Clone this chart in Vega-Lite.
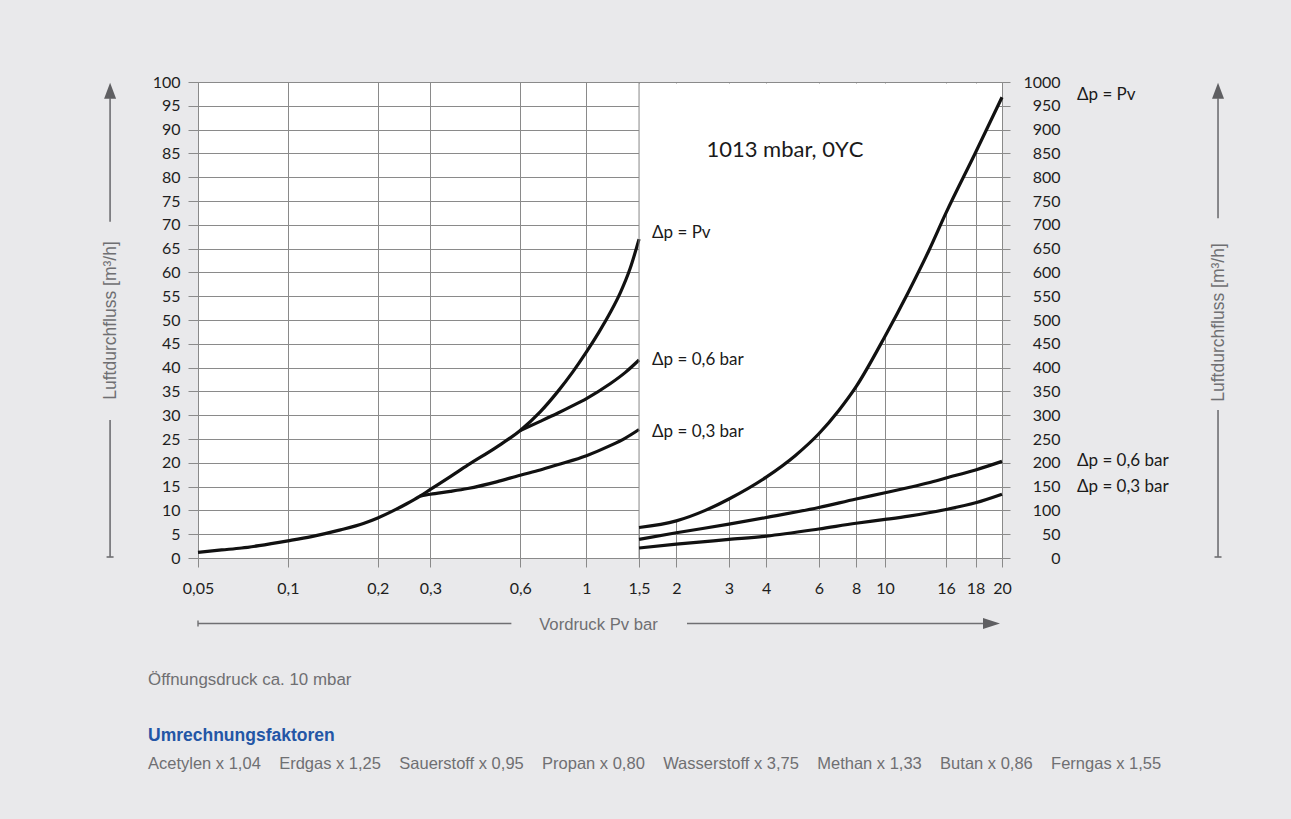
{
  "$schema": "https://vega.github.io/schema/vega-lite/v6.json",
  "width": 804,
  "height": 476,
  "autosize": {"type": "none"},
  "padding": {"left": 198, "top": 82, "right": 289, "bottom": 261},
  "background": "#e9e9eb",
  "config": {
    "view": {"fill": "white", "stroke": "#8a8a8a", "strokeWidth": 1},
    "axis": {"gridColor": "#8a8a8a", "gridOpacity": 1, "gridWidth": 1, "tickColor": "#8a8a8a", "tickWidth": 1, "domain": false, "labelFont": "Lato", "labelFontSize": 16, "labelColor": "#1e1e1e", "titleFont": "Liberation Sans", "titleFontSize": 17.5, "titleFontWeight": "normal", "titleColor": "#6f6f72"}
  },
  "datasets": {
    "left": [
      {"series": "Pv", "x": 0.05, "y": 1.2}, {"series": "Pv", "x": 0.06, "y": 1.7}, {"series": "Pv", "x": 0.07, "y": 2.1}, {"series": "Pv", "x": 0.08, "y": 2.6},
      {"series": "Pv", "x": 0.1, "y": 3.6}, {"series": "Pv", "x": 0.12, "y": 4.5}, {"series": "Pv", "x": 0.15, "y": 5.9}, {"series": "Pv", "x": 0.18, "y": 7.3},
      {"series": "Pv", "x": 0.2, "y": 8.4}, {"series": "Pv", "x": 0.23, "y": 10.2}, {"series": "Pv", "x": 0.25, "y": 11.4}, {"series": "Pv", "x": 0.277, "y": 13.0},
      {"series": "Pv", "x": 0.3, "y": 14.4}, {"series": "Pv", "x": 0.35, "y": 17.1}, {"series": "Pv", "x": 0.4, "y": 19.5}, {"series": "Pv", "x": 0.5, "y": 23.3},
      {"series": "Pv", "x": 0.6, "y": 26.8}, {"series": "Pv", "x": 0.7, "y": 30.7}, {"series": "Pv", "x": 0.8, "y": 34.9}, {"series": "Pv", "x": 0.9, "y": 39.1},
      {"series": "Pv", "x": 1.0, "y": 43.3}, {"series": "Pv", "x": 1.1, "y": 47.4}, {"series": "Pv", "x": 1.2, "y": 51.5}, {"series": "Pv", "x": 1.3, "y": 55.8},
      {"series": "Pv", "x": 1.4, "y": 60.8}, {"series": "Pv", "x": 1.5, "y": 67.0},
      {"series": "0,6", "x": 0.6, "y": 26.8}, {"series": "0,6", "x": 0.7, "y": 28.7}, {"series": "0,6", "x": 0.8, "y": 30.4}, {"series": "0,6", "x": 0.9, "y": 32.0},
      {"series": "0,6", "x": 1.0, "y": 33.5}, {"series": "0,6", "x": 1.2, "y": 36.6}, {"series": "0,6", "x": 1.35, "y": 39.0}, {"series": "0,6", "x": 1.5, "y": 41.6},
      {"series": "0,3", "x": 0.277, "y": 13.0}, {"series": "0,3", "x": 0.3, "y": 13.4}, {"series": "0,3", "x": 0.35, "y": 14.0}, {"series": "0,3", "x": 0.4, "y": 14.6},
      {"series": "0,3", "x": 0.5, "y": 16.0}, {"series": "0,3", "x": 0.6, "y": 17.4}, {"series": "0,3", "x": 0.7, "y": 18.5}, {"series": "0,3", "x": 0.8, "y": 19.6},
      {"series": "0,3", "x": 1.0, "y": 21.5}, {"series": "0,3", "x": 1.2, "y": 23.6}, {"series": "0,3", "x": 1.35, "y": 25.2}, {"series": "0,3", "x": 1.5, "y": 27.0}
    ],
    "right": [
      {"series": "Pv", "x": 1.5, "y": 64}, {"series": "Pv", "x": 2, "y": 78}, {"series": "Pv", "x": 2.5, "y": 100}, {"series": "Pv", "x": 3, "y": 124},
      {"series": "Pv", "x": 4, "y": 170}, {"series": "Pv", "x": 5, "y": 215}, {"series": "Pv", "x": 6, "y": 261}, {"series": "Pv", "x": 7, "y": 310},
      {"series": "Pv", "x": 8, "y": 360}, {"series": "Pv", "x": 10, "y": 466}, {"series": "Pv", "x": 12, "y": 560}, {"series": "Pv", "x": 14, "y": 645},
      {"series": "Pv", "x": 16, "y": 725}, {"series": "Pv", "x": 18, "y": 852}, {"series": "Pv", "x": 20, "y": 968},
      {"series": "0,6", "x": 1.5, "y": 39}, {"series": "0,6", "x": 2, "y": 53}, {"series": "0,6", "x": 3, "y": 71}, {"series": "0,6", "x": 4, "y": 85},
      {"series": "0,6", "x": 6, "y": 106}, {"series": "0,6", "x": 8, "y": 124}, {"series": "0,6", "x": 10, "y": 137}, {"series": "0,6", "x": 12, "y": 148},
      {"series": "0,6", "x": 14, "y": 158}, {"series": "0,6", "x": 16, "y": 168}, {"series": "0,6", "x": 18, "y": 185}, {"series": "0,6", "x": 20, "y": 203},
      {"series": "0,3", "x": 1.5, "y": 21}, {"series": "0,3", "x": 2, "y": 29}, {"series": "0,3", "x": 3, "y": 39}, {"series": "0,3", "x": 4, "y": 46},
      {"series": "0,3", "x": 6, "y": 61}, {"series": "0,3", "x": 8, "y": 73}, {"series": "0,3", "x": 10, "y": 81}, {"series": "0,3", "x": 12, "y": 88},
      {"series": "0,3", "x": 14, "y": 95}, {"series": "0,3", "x": 16, "y": 102}, {"series": "0,3", "x": 18, "y": 116}, {"series": "0,3", "x": 20, "y": 134}
    ]
  },
  "layer": [
    {
      "data": {"name": "right"},
      "transform": [{"filter": "datum.series === 'Pv'"}],
      "mark": {"type": "area", "fill": "white", "interpolate": "monotone"},
      "encoding": {
        "x": {"field": "x", "type": "quantitative", "title": "Vordruck Pv bar",
              "scale": {"type": "log", "domain": [0.05, 16, 20], "range": [0, 748, 804], "nice": false, "zero": false},
              "axis": {"values": [0.05, 0.1, 0.2, 0.3, 0.6, 1, 1.5, 2, 3, 4, 6, 8, 10, 16, 18, 20],
                       "labelExpr": "replace(toString(datum.value), '.', ',')",
                       "grid": true, "tickSize": 9, "labelPadding": 13, "labelOverlap": false, "labelFlush": false,
                       "titleFontSize": 16.7, "titleX": 400, "titleY": 66, "titleBaseline": "middle", "titleAlign": "center"}},
        "y": {"field": "y", "type": "quantitative", "scale": {"domain": [0, 1000], "nice": false}, "axis": null},
        "y2": {"datum": 997}
      }
    },
    {
      "data": {"name": "left"},
      "mark": {"type": "line", "color": "#111111", "strokeWidth": 3.2, "interpolate": "monotone"},
      "encoding": {
        "x": {"field": "x", "type": "quantitative", "title": "Vordruck Pv bar", "scale": {"type": "log", "domain": [0.05, 16, 20], "range": [0, 748, 804], "nice": false, "zero": false}},
        "y": {"field": "y", "type": "quantitative", "title": "Luftdurchfluss [m³/h]", "scale": {"domain": [0, 100], "nice": false},
              "axis": {"orient": "left", "values": [0, 5, 10, 15, 20, 25, 30, 35, 40, 45, 50, 55, 60, 65, 70, 75, 80, 85, 90, 95, 100],
                       "labelOverlap": false, "grid": true, "tickSize": 10, "labelPadding": 8, "format": "d",
                       "titleX": -88, "titleY": 238, "titleAngle": 270, "titleBaseline": "middle", "titleAlign": "center"}},
        "detail": {"field": "series"}
      }
    },
    {
      "data": {"values": [{}]},
      "mark": {"type": "rule", "color": "#8a8a8a", "strokeWidth": 1},
      "encoding": {
        "x": {"datum": 1.5, "type": "quantitative", "scale": {"type": "log", "domain": [0.05, 16, 20], "range": [0, 748, 804], "nice": false, "zero": false}}
      }
    },
    {
      "data": {"values": [
        {"t": "Δp = Pv", "x": 1.5, "y": 68.3},
        {"t": "Δp = 0,6 bar", "x": 1.5, "y": 41.6},
        {"t": "Δp = 0,3 bar", "x": 1.5, "y": 26.5}
      ]},
      "mark": {"type": "text", "font": "Lato", "fontSize": 17, "color": "#1a1a1a", "align": "left", "baseline": "middle", "dx": 13},
      "encoding": {
        "x": {"field": "x", "type": "quantitative", "scale": {"type": "log", "domain": [0.05, 16, 20], "range": [0, 748, 804], "nice": false, "zero": false}},
        "y": {"field": "y", "type": "quantitative", "scale": {"domain": [0, 100], "nice": false}, "axis": null},
        "text": {"field": "t"}
      }
    },
    {
      "data": {"values": [
        {"t": "Δp = Pv", "x": 20, "y": 97.3},
        {"t": "Δp = 0,6 bar", "x": 20, "y": 20.4},
        {"t": "Δp = 0,3 bar", "x": 20, "y": 14.9}
      ]},
      "mark": {"type": "text", "font": "Lato", "fontSize": 17, "color": "#1a1a1a", "align": "left", "baseline": "middle", "dx": 75},
      "encoding": {
        "x": {"field": "x", "type": "quantitative", "scale": {"type": "log", "domain": [0.05, 16, 20], "range": [0, 748, 804], "nice": false, "zero": false}},
        "y": {"field": "y", "type": "quantitative", "scale": {"domain": [0, 100], "nice": false}, "axis": null},
        "text": {"field": "t"}
      }
    },
    {
      "data": {"values": [{"t": "1013 mbar, 0ΥC", "x": 4.62, "y": 85.7}]},
      "mark": {"type": "text", "font": "Lato", "fontSize": 22, "color": "#1a1a1a", "align": "center", "baseline": "middle"},
      "encoding": {
        "x": {"field": "x", "type": "quantitative", "scale": {"type": "log", "domain": [0.05, 16, 20], "range": [0, 748, 804], "nice": false, "zero": false}},
        "y": {"field": "y", "type": "quantitative", "scale": {"domain": [0, 100], "nice": false}, "axis": null},
        "text": {"field": "t"}
      }
    },
    {
      "data": {"values": [
        {"x": 0.02538, "y": 96.6, "y2": 70.65},
        {"x": 0.02538, "y": 28.99, "y2": 0.21},
        {"x": 47.3, "y": 96.6, "y2": 71.37},
        {"x": 47.3, "y": 31.09, "y2": 0.21}
      ]},
      "mark": {"type": "rule", "color": "#6f6f72", "strokeWidth": 1.6},
      "encoding": {
        "x": {"field": "x", "type": "quantitative", "scale": {"type": "log", "domain": [0.05, 16, 20], "range": [0, 748, 804], "nice": false, "zero": false}},
        "y": {"field": "y", "type": "quantitative", "scale": {"domain": [0, 100], "nice": false}, "axis": null},
        "y2": {"field": "y2"}
      }
    },
    {
      "data": {"values": [
        {"x": 0.05, "x2": 0.5604, "y": -13.76},
        {"x": 2.171, "x2": 18.54, "y": -13.76}
      ]},
      "mark": {"type": "rule", "color": "#6f6f72", "strokeWidth": 1.4},
      "encoding": {
        "x": {"field": "x", "type": "quantitative", "scale": {"type": "log", "domain": [0.05, 16, 20], "range": [0, 748, 804], "nice": false, "zero": false}},
        "x2": {"field": "x2"},
        "y": {"field": "y", "type": "quantitative", "scale": {"domain": [0, 100], "nice": false}, "axis": null}
      }
    },
    {
      "data": {"values": [{"x": 0.02538, "y": 98.17}, {"x": 47.3, "y": 98.17}]},
      "mark": {"type": "point", "shape": "M-0.75,1L0,-1L0.75,1Z", "size": 256, "filled": true, "color": "#5f5f62", "opacity": 1},
      "encoding": {
        "x": {"field": "x", "type": "quantitative", "scale": {"type": "log", "domain": [0.05, 16, 20], "range": [0, 748, 804], "nice": false, "zero": false}},
        "y": {"field": "y", "type": "quantitative", "scale": {"domain": [0, 100], "nice": false}, "axis": null}
      }
    },
    {
      "data": {"values": [{"x": 19.18, "y": -13.76}]},
      "mark": {"type": "point", "shape": "M-1,-0.65L1,0L-1,0.65Z", "size": 289, "filled": true, "color": "#5f5f62", "opacity": 1},
      "encoding": {
        "x": {"field": "x", "type": "quantitative", "scale": {"type": "log", "domain": [0.05, 16, 20], "range": [0, 748, 804], "nice": false, "zero": false}},
        "y": {"field": "y", "type": "quantitative", "scale": {"domain": [0, 100], "nice": false}, "axis": null}
      }
    },
    {
      "data": {"values": [{"x": 0.02538, "y": 0.21}, {"x": 47.3, "y": 0.21}]},
      "mark": {"type": "point", "shape": "M-1,0L1,0", "size": 49, "filled": false, "stroke": "#6f6f72", "strokeWidth": 1.6, "opacity": 1},
      "encoding": {
        "x": {"field": "x", "type": "quantitative", "scale": {"type": "log", "domain": [0.05, 16, 20], "range": [0, 748, 804], "nice": false, "zero": false}},
        "y": {"field": "y", "type": "quantitative", "scale": {"domain": [0, 100], "nice": false}, "axis": null}
      }
    },
    {
      "data": {"values": [{"x": 0.05, "y": -13.76}]},
      "mark": {"type": "point", "shape": "M0,-1L0,1", "size": 36, "filled": false, "stroke": "#6f6f72", "strokeWidth": 1.4, "opacity": 1},
      "encoding": {
        "x": {"field": "x", "type": "quantitative", "scale": {"type": "log", "domain": [0.05, 16, 20], "range": [0, 748, 804], "nice": false, "zero": false}},
        "y": {"field": "y", "type": "quantitative", "scale": {"domain": [0, 100], "nice": false}, "axis": null}
      }
    },
    {
      "data": {"values": [{"t": "Öffnungsdruck ca. 10 mbar", "x": 0.034, "y": -25.63}]},
      "mark": {"type": "text", "font": "Liberation Sans", "fontSize": 16.9, "color": "#6f6f72", "align": "left", "baseline": "middle"},
      "encoding": {
        "x": {"field": "x", "type": "quantitative", "scale": {"type": "log", "domain": [0.05, 16, 20], "range": [0, 748, 804], "nice": false, "zero": false}},
        "y": {"field": "y", "type": "quantitative", "scale": {"domain": [0, 100], "nice": false}, "axis": null},
        "text": {"field": "t"}
      }
    },
    {
      "data": {"values": [{"t": "Acetylen x 1,04\u00a0\u00a0\u00a0\u00a0Erdgas x 1,25\u00a0\u00a0\u00a0\u00a0Sauerstoff x 0,95\u00a0\u00a0\u00a0\u00a0Propan x 0,80\u00a0\u00a0\u00a0\u00a0Wasserstoff x 3,75\u00a0\u00a0\u00a0\u00a0Methan x 1,33\u00a0\u00a0\u00a0\u00a0Butan x 0,86\u00a0\u00a0\u00a0\u00a0Ferngas x 1,55", "x": 0.034, "y": -43.28}]},
      "mark": {"type": "text", "font": "Liberation Sans", "fontSize": 16.5, "color": "#6f6f72", "align": "left", "baseline": "middle"},
      "encoding": {
        "x": {"field": "x", "type": "quantitative", "scale": {"type": "log", "domain": [0.05, 16, 20], "range": [0, 748, 804], "nice": false, "zero": false}},
        "y": {"field": "y", "type": "quantitative", "scale": {"domain": [0, 100], "nice": false}, "axis": null},
        "text": {"field": "t"}
      }
    },
    {
      "data": {"values": [{"t": "Umrechnungsfaktoren", "x": 0.034, "y": -37.39}]},
      "mark": {"type": "text", "font": "Liberation Sans", "fontSize": 17.5, "fontWeight": "bold", "color": "#2356a6", "align": "left", "baseline": "middle"},
      "encoding": {
        "x": {"field": "x", "type": "quantitative", "scale": {"type": "log", "domain": [0.05, 16, 20], "range": [0, 748, 804], "nice": false, "zero": false}},
        "y": {"field": "y", "type": "quantitative", "scale": {"domain": [0, 100], "nice": false}, "axis": null},
        "text": {"field": "t"}
      }
    },
    {
      "data": {"name": "right"},
      "mark": {"type": "line", "color": "#111111", "strokeWidth": 3.2, "interpolate": "monotone"},
      "encoding": {
        "x": {"field": "x", "type": "quantitative", "title": "Vordruck Pv bar", "scale": {"type": "log", "domain": [0.05, 16, 20], "range": [0, 748, 804], "nice": false, "zero": false}},
        "y": {"field": "y", "type": "quantitative", "title": "Luftdurchfluss [m³/h]", "scale": {"domain": [0, 1000], "nice": false},
              "axis": {"orient": "right", "values": [0, 50, 100, 150, 200, 250, 300, 350, 400, 450, 500, 550, 600, 650, 700, 750, 800, 850, 900, 950, 1000],
                       "labelOverlap": false, "format": "d", "grid": false, "tickSize": 8, "labelAlign": "right", "labelPadding": 50,
                       "titleX": 216, "titleY": 240, "titleAngle": 270, "titleBaseline": "middle", "titleAlign": "center"}},
        "detail": {"field": "series"}
      }
    }
  ],
  "resolve": {"scale": {"y": "independent"}, "axis": {"y": "independent"}}
}
